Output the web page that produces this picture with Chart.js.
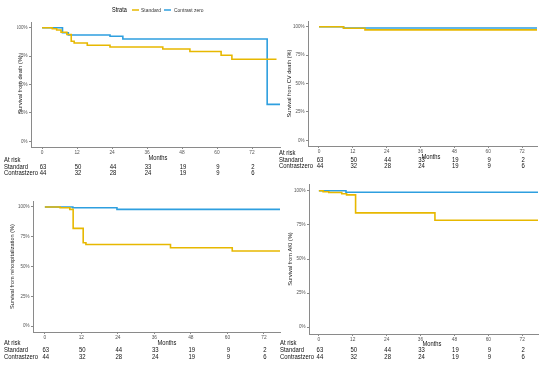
<!DOCTYPE html>
<html>
<head>
<meta charset="utf-8">
<script src="https://cdn.jsdelivr.net/npm/chart.js@4"></script>
<style>
  body { margin: 0; background: #fff; }
  #wrap { position: relative; width: 550px; height: 366px; }
  #wrap canvas { position: absolute; left: 0; top: 0; }
</style>
</head>
<body>
<div id="wrap">
  <canvas id="death" width="550" height="366"></canvas>
  <canvas id="cvdeath" width="550" height="366"></canvas>
  <canvas id="rehosp" width="550" height="366"></canvas>
  <canvas id="aki" width="550" height="366"></canvas>
</div>
<script>
// tick labels / risk table
const months = [0, 12, 24, 36, 48, 60, 72];
const survTicks = [0, 25, 50, 75, 100];
const riskStandard = [63, 50, 44, 33, 19, 9, 2];
const riskContrastZero = [44, 32, 28, 24, 19, 9, 6];

// survival from death
const deathStdT = [0, 3.5, 5, 6.5, 8.5, 10, 11, 15.5, 23.3, 41.4, 50.7, 61.4, 65.1, 80.4];
const deathStdS = [100, 99, 98, 96, 94, 88, 86.5, 84.5, 83, 81.3, 79, 75.7, 72.2, 72.2];
const deathCzT = [0, 7, 9, 23.3, 27.7, 77.2, 81.6];
const deathCzS = [100, 95.5, 93.5, 92.5, 90, 32.5, 32.5];

// survival from CV death
const cvStdT = [0, 8.7, 16.3, 77.3];
const cvStdS = [100, 98.6, 97.2, 97.2];
const cvCzT = [0, 8.7, 77.3];
const cvCzS = [100, 98.9, 98.9];

// survival from rehospitalization
const rehospStdT = [0, 5, 8.2, 9.3, 12.6, 13.5, 41.3, 61.6, 77.3];
const rehospStdS = [100, 99.3, 98, 82, 70, 68.5, 65.7, 63, 63];
const rehospCzT = [0, 9.2, 23.7, 77.3];
const rehospCzS = [100, 99.3, 98, 98];

// survival from AKI
const akiStdT = [0, 1.5, 3.5, 8.1, 9.8, 13, 41.1, 77.6];
const akiStdS = [100, 99.3, 98.8, 97.8, 97, 83.8, 78.4, 78.4];
const akiCzT = [0, 9.6, 77.6];
const akiCzS = [100, 99, 99];

const yellow = '#E7B800';
const blue = '#2E9FDF';
const FONT = '"Liberation Sans", Arial, sans-serif';
const W = 550, H = 366;

function pts(t, s) {
    return t.map((v, i) => ({ x: v, y: s[i] }));
}

// the figure's text is a little narrower than the font, so squeeze it
function sqText(ctx, text, x, y, align) {
    ctx.save();
    ctx.translate(x, y);
    ctx.scale(0.85, 1);
    ctx.textAlign = align;
    ctx.fillText(text, 0, 0);
    ctx.restore();
}

// draws "Months", the at-risk table and (optionally) the strata legend
const riskTable = {
    id: 'riskTable',
    afterDraw(chart, args, opts) {
        const ctx = chart.ctx;
        const xs = chart.scales.x;
        ctx.save();
        ctx.fillStyle = '#111';
        ctx.textBaseline = 'middle';
        ctx.font = '6.8px ' + FONT;
        sqText(ctx, 'Months', opts.monthsX, opts.monthsY, 'center');
        ctx.font = '7px ' + FONT;
        sqText(ctx, 'At risk', opts.labelX, opts.rowY[0], 'left');
        sqText(ctx, 'Standard', opts.labelX, opts.rowY[1], 'left');
        sqText(ctx, 'Contrastzero', opts.labelX, opts.rowY[2], 'left');
        months.forEach(function(m, i) {
            let px = xs.getPixelForValue(m) + 1;
            sqText(ctx, String(riskStandard[i]), px, opts.rowY[1], 'center');
            sqText(ctx, String(riskContrastZero[i]), px, opts.rowY[2], 'center');
        });
        if (opts.legend) {
            ctx.font = '6.5px ' + FONT;
            ctx.fillStyle = '#000';
            sqText(ctx, 'Strata', 112, 10, 'left');
            ctx.font = '5.8px ' + FONT;
            ctx.fillStyle = '#333';
            sqText(ctx, 'Standard', 141, 10, 'left');
            sqText(ctx, 'Contrast zero', 174, 10, 'left');
            ctx.lineWidth = 1.5;
            ctx.strokeStyle = yellow;
            ctx.beginPath(); ctx.moveTo(132, 10); ctx.lineTo(139, 10); ctx.stroke();
            ctx.strokeStyle = blue;
            ctx.beginPath(); ctx.moveTo(164, 10); ctx.lineTo(171, 10); ctx.stroke();
        }
        ctx.restore();
    }
};

function kmChart(id, p) {
    const yTitleFont = 5.6;
    const boxLeft = p.yTitleX - yTitleFont * 1.2 / 2;
    const yW = p.area.left - boxLeft;
    const xH = H - p.area.bottom;
    return new Chart(document.getElementById(id), {
        type: 'line',
        data: {
            datasets: [{
                    label: 'Standard',
                    data: pts(p.stdT, p.stdS),
                    borderColor: yellow,
                    borderWidth: 1.6,
                    stepped: true,
                    pointRadius: 0,
                    fill: false
                },
                {
                    label: 'Contrast zero',
                    data: pts(p.czT, p.czS),
                    borderColor: blue,
                    borderWidth: 1.6,
                    stepped: true,
                    pointRadius: 0,
                    fill: false
                }
            ]
        },
        options: {
            responsive: false,
            animation: false,
            devicePixelRatio: 1,
            layout: {
                padding: { left: boxLeft, top: p.area.top, right: W - p.area.right, bottom: 0 }
            },
            plugins: {
                legend: { display: false },
                tooltip: { enabled: false },
                riskTable: p.table
            },
            scales: {
                x: {
                    type: 'linear',
                    min: p.xMin,
                    max: p.xMax,
                    afterBuildTicks: function(axis) { axis.ticks = months.map(v => ({ value: v })); },
                    afterFit: function(axis) { axis.height = xH; },
                    grid: { display: true, drawOnChartArea: false, drawTicks: true, tickLength: 2, color: '#8a8a8a' },
                    border: { display: true, color: '#8a8a8a', width: 1 },
                    ticks: { font: { size: 4.8, family: FONT }, color: '#555', padding: 1, maxRotation: 0 }
                },
                y: {
                    min: -5,
                    max: 105,
                    afterBuildTicks: function(axis) { axis.ticks = survTicks.map(v => ({ value: v })); },
                    afterFit: function(axis) { axis.width = yW; },
                    grid: { display: true, drawOnChartArea: false, drawTicks: true, tickLength: 2, color: '#8a8a8a' },
                    border: { display: true, color: '#8a8a8a', width: 1 },
                    ticks: {
                        font: { size: 4.5, family: FONT },
                        color: '#555',
                        padding: 1.5,
                        callback: v => v + '%'
                    },
                    title: {
                        display: true,
                        text: p.yTitle,
                        color: '#222',
                        padding: 0,
                        font: { size: yTitleFont, family: FONT }
                    }
                }
            }
        },
        plugins: [riskTable]
    });
}

kmChart('death', {
    area: { left: 31, top: 22, right: 280, bottom: 147 },
    xMin: -3.8, xMax: 81.6,
    yTitleX: 20.5,
    yTitle: 'Survival from death (%)',
    stdT: deathStdT, stdS: deathStdS, czT: deathCzT, czS: deathCzS,
    table: { monthsX: 158, monthsY: 158, labelX: 4, rowY: [160.5, 167, 173.5], legend: true }
});

kmChart('cvdeath', {
    area: { left: 308, top: 21, right: 537, bottom: 146 },
    xMin: -3.9, xMax: 77.3,
    yTitleX: 289,
    yTitle: 'Survival from CV death (%)',
    stdT: cvStdT, stdS: cvStdS, czT: cvCzT, czS: cvCzS,
    table: { monthsX: 431, monthsY: 157, labelX: 279, rowY: [153.5, 160, 166.5], legend: false }
});

kmChart('rehosp', {
    area: { left: 33, top: 201, right: 280, bottom: 332 },
    xMin: -3.9, xMax: 77.3,
    yTitleX: 12,
    yTitle: 'Survival from rehospitalization (%)',
    stdT: rehospStdT, stdS: rehospStdS, czT: rehospCzT, czS: rehospCzS,
    table: { monthsX: 167, monthsY: 343.5, labelX: 4, rowY: [343.5, 350.5, 357], legend: false }
});

kmChart('aki', {
    area: { left: 309, top: 184, right: 538, bottom: 334 },
    xMin: -3.5, xMax: 77.6,
    yTitleX: 290,
    yTitle: 'Survival from AKI (%)',
    stdT: akiStdT, stdS: akiStdS, czT: akiCzT, czS: akiCzS,
    table: { monthsX: 432, monthsY: 344, labelX: 280, rowY: [343.5, 350.5, 357], legend: false }
});
</script>
</body>
</html>
